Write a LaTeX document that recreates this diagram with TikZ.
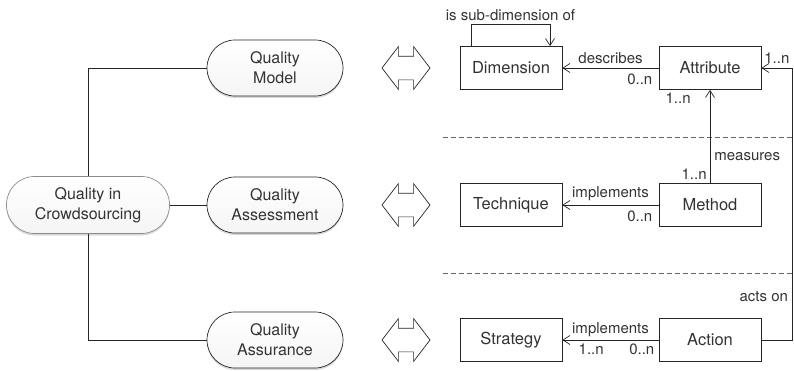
\documentclass[tikz,border=0pt]{standalone}
\usepackage{fontspec}
\setmainfont{TeX Gyre Heros}
\usetikzlibrary{arrows.meta,shapes.arrows,shadows,matrix}
\newcommand{\upto}[1]{#1..n}

\begin{document}
\begin{tikzpicture}[->,>={Straight Barb[length=7pt,width=9pt]}
	,x=1pt,y=-1pt
	,line width=0.7pt
	,auto]
  \tikzstyle{quality}
  =[draw=black!85,rounded corners=28pt
  ,minimum width=136pt,minimum height=56pt
  ,top color=white,bottom color=black!4
  ,drop shadow={opacity=.3,shadow xshift=0pt,shadow yshift=-2pt}
  ,align=center,font=\fontsize{16}{20}\selectfont,text=black!80]
  \tikzstyle{hub}=[quality,draw=black!45
  ,minimum width=163pt,minimum height=57pt]
  \tikzstyle{entity}=[draw=black!85
  ,minimum width=102pt,minimum height=43pt
  ,font=\fontsize{16.5}{20}\selectfont,text=black!80]
  \tikzstyle{link}=[draw=black!85,double arrow
  ,inner xsep=0pt,inner ysep=11.5pt,minimum height=48pt
  ,double arrow head extend=9.5pt,double arrow tip angle=105]
  \tikzstyle{card}=[font=\fontsize{15}{18}\selectfont,text=black!80
  ,inner sep=6pt]

  \useasboundingbox (0,0) rectangle (794,371);

  \matrix (m) [matrix anchor=qc.center
  ,row sep={137pt,between origins},column sep=0pt] at (88,205) {
    % model row
    &[187pt,between origins]
    \node[quality](qm) {Quality\\Model};   &[131pt,between origins]
    \node[link](lm) {};                     &[105pt,between origins]
    \node[entity](dim) {Dimension};        &[199pt,between origins]
    \node[entity](attr) {Attribute};       \\
    % assessment row
    \node[hub](qc) {Quality in\\Crowdsourcing}; &
    \node[quality](qa) {Quality\\Assessment};   &
    \node[link](la) {};                          &
    \node[entity](tech) {Technique};            &
    \node[entity](meth) {Method};               \\[-2pt]
    % assurance row
    &
    \node[quality](qs) {Quality\\Assurance};  &
    \node[link](ls) {};                        &
    \node[entity](strat) {Strategy};          &
    \node[entity](act) {Action};              \\
  };

  % separators
  \draw[-,dashed,black!60,dash pattern=on 5pt off 3pt] (443,137) -- (794,137);
  \draw[-,dashed,black!60,dash pattern=on 5pt off 3pt] (443,273) -- (794,273);

  % hub to branches
  \draw[-,black!85] (qc.north) |- (qm.west);
  \path[-,black!85] (qc) edge (qa);
  \draw[-,black!85] (qc.south) |- (qs.west);

  % model
  \draw[->,black!85] ([xshift=-40pt]dim.north) -- ++(0,-22)
  -| node[pos=0.25,above,card,inner sep=3pt] {is sub-dimension of}
  ([xshift=39pt]dim.north);
  \path[->,black!85] (attr) edge
  node[above,card,pos=0.5,inner sep=4pt] {describes}
  node[below left,card,pos=0] {\upto{0}}
  (dim);

  % assessment
  \path[->,black!85] (meth) edge
  node[above,card,pos=0.5,inner sep=4pt] {implements}
  node[below left,card,pos=0] {\upto{0}}
  (tech);
  \path[->,black!85] (meth) edge
  node[above left,card,pos=0,inner sep=3pt] {\upto{1}}
  node[right,card,pos=0.29,inner sep=4pt] {measures}
  node[below left,card,pos=1,xshift=-16pt,inner sep=3pt] {\upto{1}}
  (attr);

  % assurance
  \path[->,black!85] (act) edge
  node[above,card,pos=0.5,inner sep=3pt] {implements}
  node[below left,card,pos=0,inner sep=4pt] {\upto{0}}
  node[below right,card,pos=1,xshift=12pt,inner sep=4pt] {\upto{1}}
  (strat);
  \draw[->,black!85] (act.east) -| node[pos=0.58,left,card,inner sep=4pt] {acts on}
  ([xshift=31pt]attr.east)
  -- node[above,card,pos=0.5,inner sep=4pt] {\upto{1}} (attr.east);

\end{tikzpicture}
\end{document}
